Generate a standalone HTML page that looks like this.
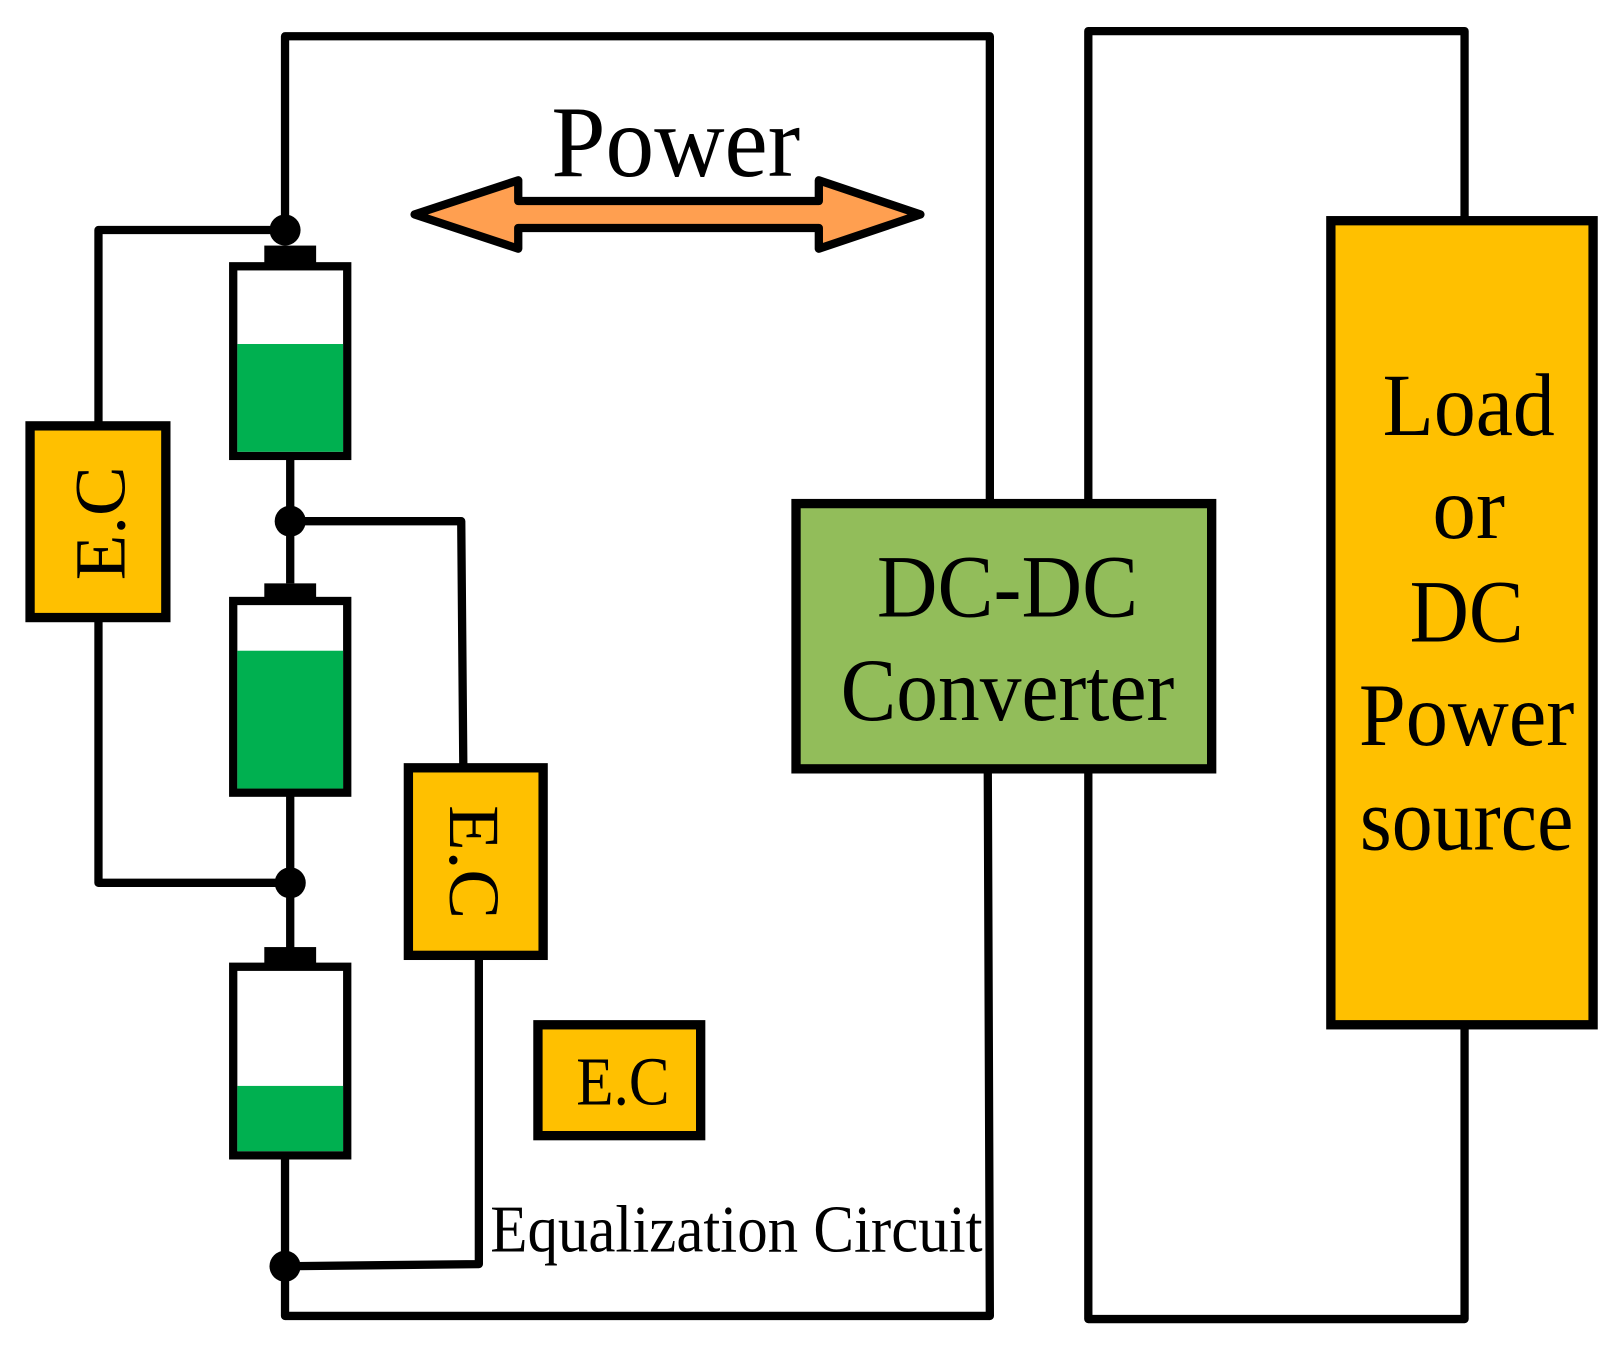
<!DOCTYPE html>
<html><head><meta charset="utf-8"><style>
html,body{margin:0;padding:0;background:#fff;}
svg{display:block;}
text{font-family:"Liberation Serif",serif;fill:#000;}
</style></head><body>
<svg width="1619" height="1346" viewBox="0 0 1562 1299" preserveAspectRatio="none" xmlns="http://www.w3.org/2000/svg">
<g fill="none" stroke="#000" stroke-width="8" stroke-linejoin="round">
<polyline points="275,222 275,35 955,35 955,485"/>
<polyline points="953,743 955,1270 275,1270 275,1222"/>
<polyline points="1050,485 1050,30 1413,30 1413,212"/>
<polyline points="1413,990 1413,1273 1050,1273 1050,743"/>
<line x1="280" y1="440" x2="280" y2="563"/>
<line x1="280" y1="765" x2="280" y2="915"/>
<line x1="275" y1="1115" x2="275" y2="1222"/>
<polyline points="95,410 95,222 275,222"/>
<polyline points="95,597 95,852 280,852"/>
<polyline points="280,503 445,503 447,740"/>
<polyline points="462,923 462,1220 275,1222"/>
</g>
<g fill="#000">
<circle cx="275" cy="222" r="15"/>
<circle cx="280" cy="503" r="15"/>
<circle cx="280" cy="852" r="15"/>
<circle cx="275" cy="1222" r="15"/>
<rect x="255" y="237" width="50" height="18"/>
<rect x="255" y="563" width="50" height="18"/>
<rect x="255" y="914" width="50" height="18"/>
</g>
<g stroke="#000" stroke-width="8">
<rect x="225" y="257" width="110" height="183" fill="#fff"/>
<rect x="229" y="332" width="102" height="104" fill="#00B050" stroke="none"/>
<rect x="225" y="580" width="110" height="185" fill="#fff"/>
<rect x="229" y="628" width="102" height="133" fill="#00B050" stroke="none"/>
<rect x="225" y="933" width="110" height="182" fill="#fff"/>
<rect x="229" y="1048" width="102" height="63" fill="#00B050" stroke="none"/>
</g>
<g stroke="#000" stroke-width="9" fill="#FFC000">
<rect x="29" y="411" width="131" height="185"/>
<rect x="394" y="741" width="130" height="181"/>
<rect x="519" y="989" width="157" height="107"/>
<rect x="1284" y="213" width="253" height="776"/>
</g>
<rect x="768" y="486" width="401" height="256" fill="#92BD5A" stroke="#000" stroke-width="9"/>
<polygon points="400,207 500,174 500,194 790,194 790,174 888,207 790,240 790,220 500,220 500,240" fill="#FF9F50" stroke="#000" stroke-width="8" stroke-linejoin="round"/>
<text x="652" y="170" font-size="98" text-anchor="middle" textLength="240" lengthAdjust="spacingAndGlyphs">Power</text>
<text transform="translate(120,505) rotate(-90)" font-size="70" text-anchor="middle" textLength="110" lengthAdjust="spacingAndGlyphs">E.C</text>
<text transform="translate(434,832) rotate(90)" font-size="70" text-anchor="middle" textLength="110" lengthAdjust="spacingAndGlyphs">E.C</text>
<text x="601" y="1066" font-size="66" text-anchor="middle" textLength="90" lengthAdjust="spacingAndGlyphs">E.C</text>
<text x="473" y="1208" font-size="64" textLength="475" lengthAdjust="spacingAndGlyphs">Equalization Circuit</text>
<text x="972" y="595" font-size="86" text-anchor="middle" textLength="252" lengthAdjust="spacingAndGlyphs">DC-DC</text>
<text x="972" y="695" font-size="86" text-anchor="middle" textLength="322" lengthAdjust="spacingAndGlyphs">Converter</text>
<g font-size="86" text-anchor="middle">
<text x="1417" y="420" textLength="166" lengthAdjust="spacingAndGlyphs">Load</text>
<text x="1417" y="519" textLength="70" lengthAdjust="spacingAndGlyphs">or</text>
<text x="1415" y="619" textLength="110" lengthAdjust="spacingAndGlyphs">DC</text>
<text x="1415" y="719" textLength="208" lengthAdjust="spacingAndGlyphs">Power</text>
<text x="1415" y="820" textLength="206" lengthAdjust="spacingAndGlyphs">source</text>
</g>
</svg>
</body></html>
